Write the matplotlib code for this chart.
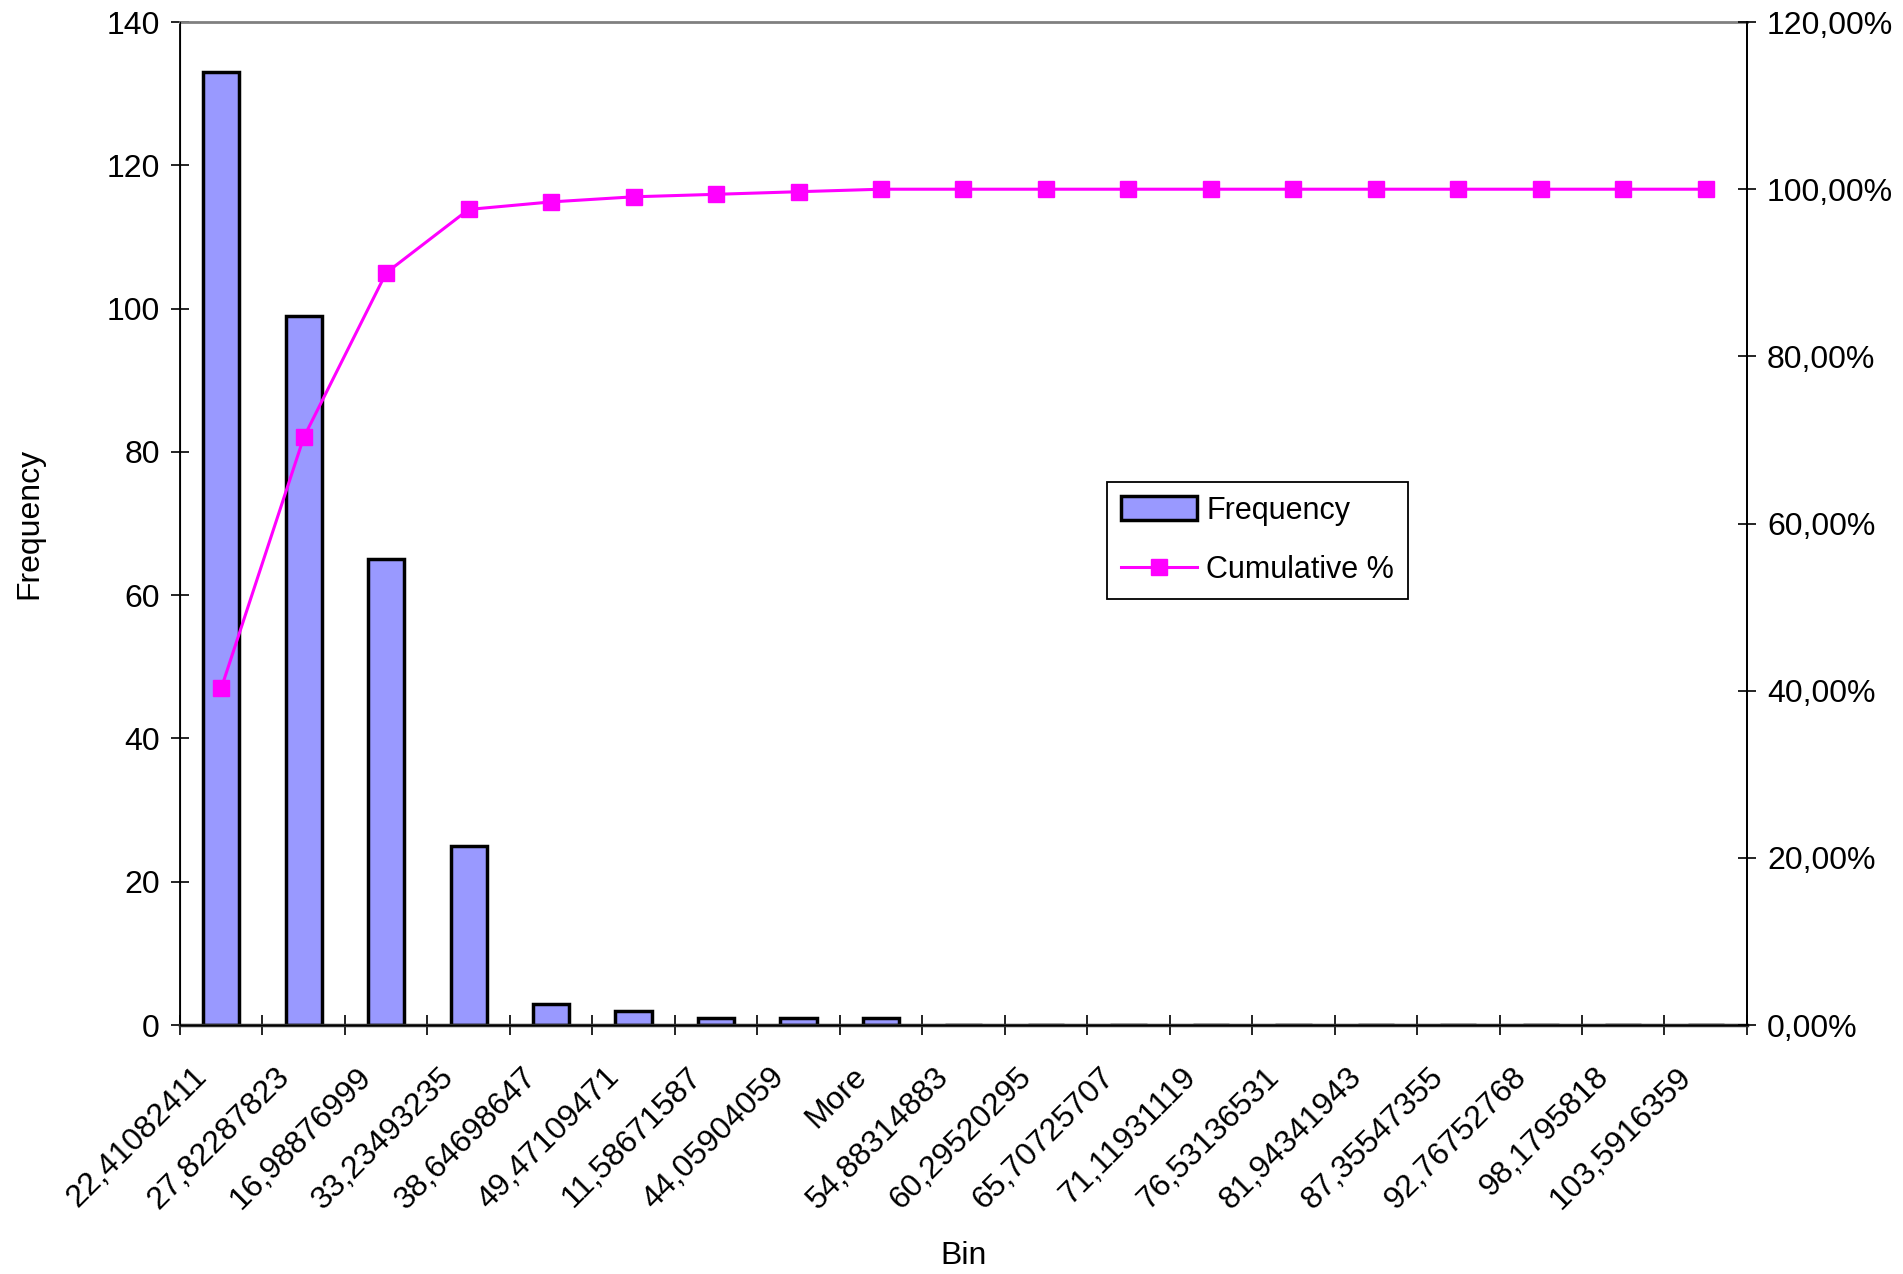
import matplotlib.pyplot as plt
import numpy as np
from matplotlib.ticker import FuncFormatter
from matplotlib.lines import Line2D
from matplotlib.patches import Patch
from matplotlib.transforms import ScaledTranslation

plt.rcParams['font.family'] = ['Liberation Sans', 'DejaVu Sans']

bins = ['22,41082411', '27,82287823', '16,98876999', '33,23493235', '38,64698647',
        '49,47109471', '11,58671587', '44,05904059', 'More', '54,88314883',
        '60,29520295', '65,70725707', '71,11931119', '76,53136531', '81,94341943',
        '87,35547355', '92,76752768', '98,1795818', '103,5916359']
frequency = [133, 99, 65, 25, 3, 2, 1, 1, 1, 0, 0, 0, 0, 0, 0, 0, 0, 0, 0]
cumulative = [40.30, 70.30, 90.00, 97.58, 98.48, 99.09, 99.39, 99.70, 100.0,
              100.0, 100.0, 100.0, 100.0, 100.0, 100.0, 100.0, 100.0, 100.0, 100.0]

bar_color = '#9999FF'
line_color = '#FF00FF'
fs = 23

fig = plt.figure(figsize=(19.03, 12.74), dpi=100)
ax = fig.add_axes([0.0946, 0.1954, 0.8234, 0.7873])
x = np.arange(len(bins))

ax.bar(x, frequency, width=0.44, color=bar_color, edgecolor='black', linewidth=2.5, zorder=2)
ax.set_xlim(-0.5, len(bins) - 0.5)
ax.set_ylim(0, 140)
ax.set_yticks(np.arange(0, 141, 20))
ax.tick_params(axis='y', direction='inout', length=13, width=1.2, labelsize=fs, pad=8)

# category labels in the middle, tick marks on the bin boundaries
ax.set_xticks(x)
ax.set_xticklabels(bins, rotation=45, ha='right', va='center', rotation_mode='anchor', fontsize=fs)
ax.tick_params(axis='x', which='major', length=0, pad=34)
shift = ScaledTranslation(-0.19, 0, fig.dpi_scale_trans)
for lbl in ax.get_xticklabels():
    lbl.set_transform(lbl.get_transform() + shift)
ax.set_xticks(np.arange(-0.5, len(bins), 1), minor=True)
ax.tick_params(axis='x', which='minor', direction='inout', length=14, width=1.2)

ax.set_ylabel('Frequency', fontsize=fs, labelpad=45)
ax.set_xlabel('Bin', fontsize=fs, labelpad=19)

for side in ['left', 'right']:
    ax.spines[side].set_linewidth(1.3)
ax.spines['top'].set_color('#808080')
ax.spines['top'].set_linewidth(2)
ax.spines['bottom'].set_linewidth(2.5)
ax.spines['bottom'].set_color('#303030')

ax2 = ax.twinx()
ax2.plot(x, cumulative, color=line_color, linewidth=2.2, marker='s', markersize=12, zorder=3)
ax2.set_ylim(0, 120)
ax2.set_yticks(np.arange(0, 121, 20))
ax2.yaxis.set_major_formatter(FuncFormatter(lambda v, p: f'{v:.2f}'.replace('.', ',') + '%'))
ax2.tick_params(axis='y', direction='inout', length=13, width=1.2, labelsize=fs, pad=8)
ax2.spines['right'].set_linewidth(1.3)
ax2.spines['top'].set_visible(False)

handles = [Patch(facecolor=bar_color, edgecolor='black', linewidth=2.5),
           Line2D([], [], color=line_color, linewidth=2.2, marker='s', markersize=12)]
leg = fig.legend(handles, ['Frequency', 'Cumulative %'], loc='upper left',
                 bbox_to_anchor=(1107 / 1903, 1 - 482 / 1274), fontsize=22,
                 fancybox=False, framealpha=1, edgecolor='black',
                 handlelength=2.5, handleheight=0.8, borderpad=0.45, labelspacing=0.95,
                 handletextpad=0.3, borderaxespad=0)
leg.get_frame().set_linewidth(1.3)

fig.savefig('out.png', dpi=100)
